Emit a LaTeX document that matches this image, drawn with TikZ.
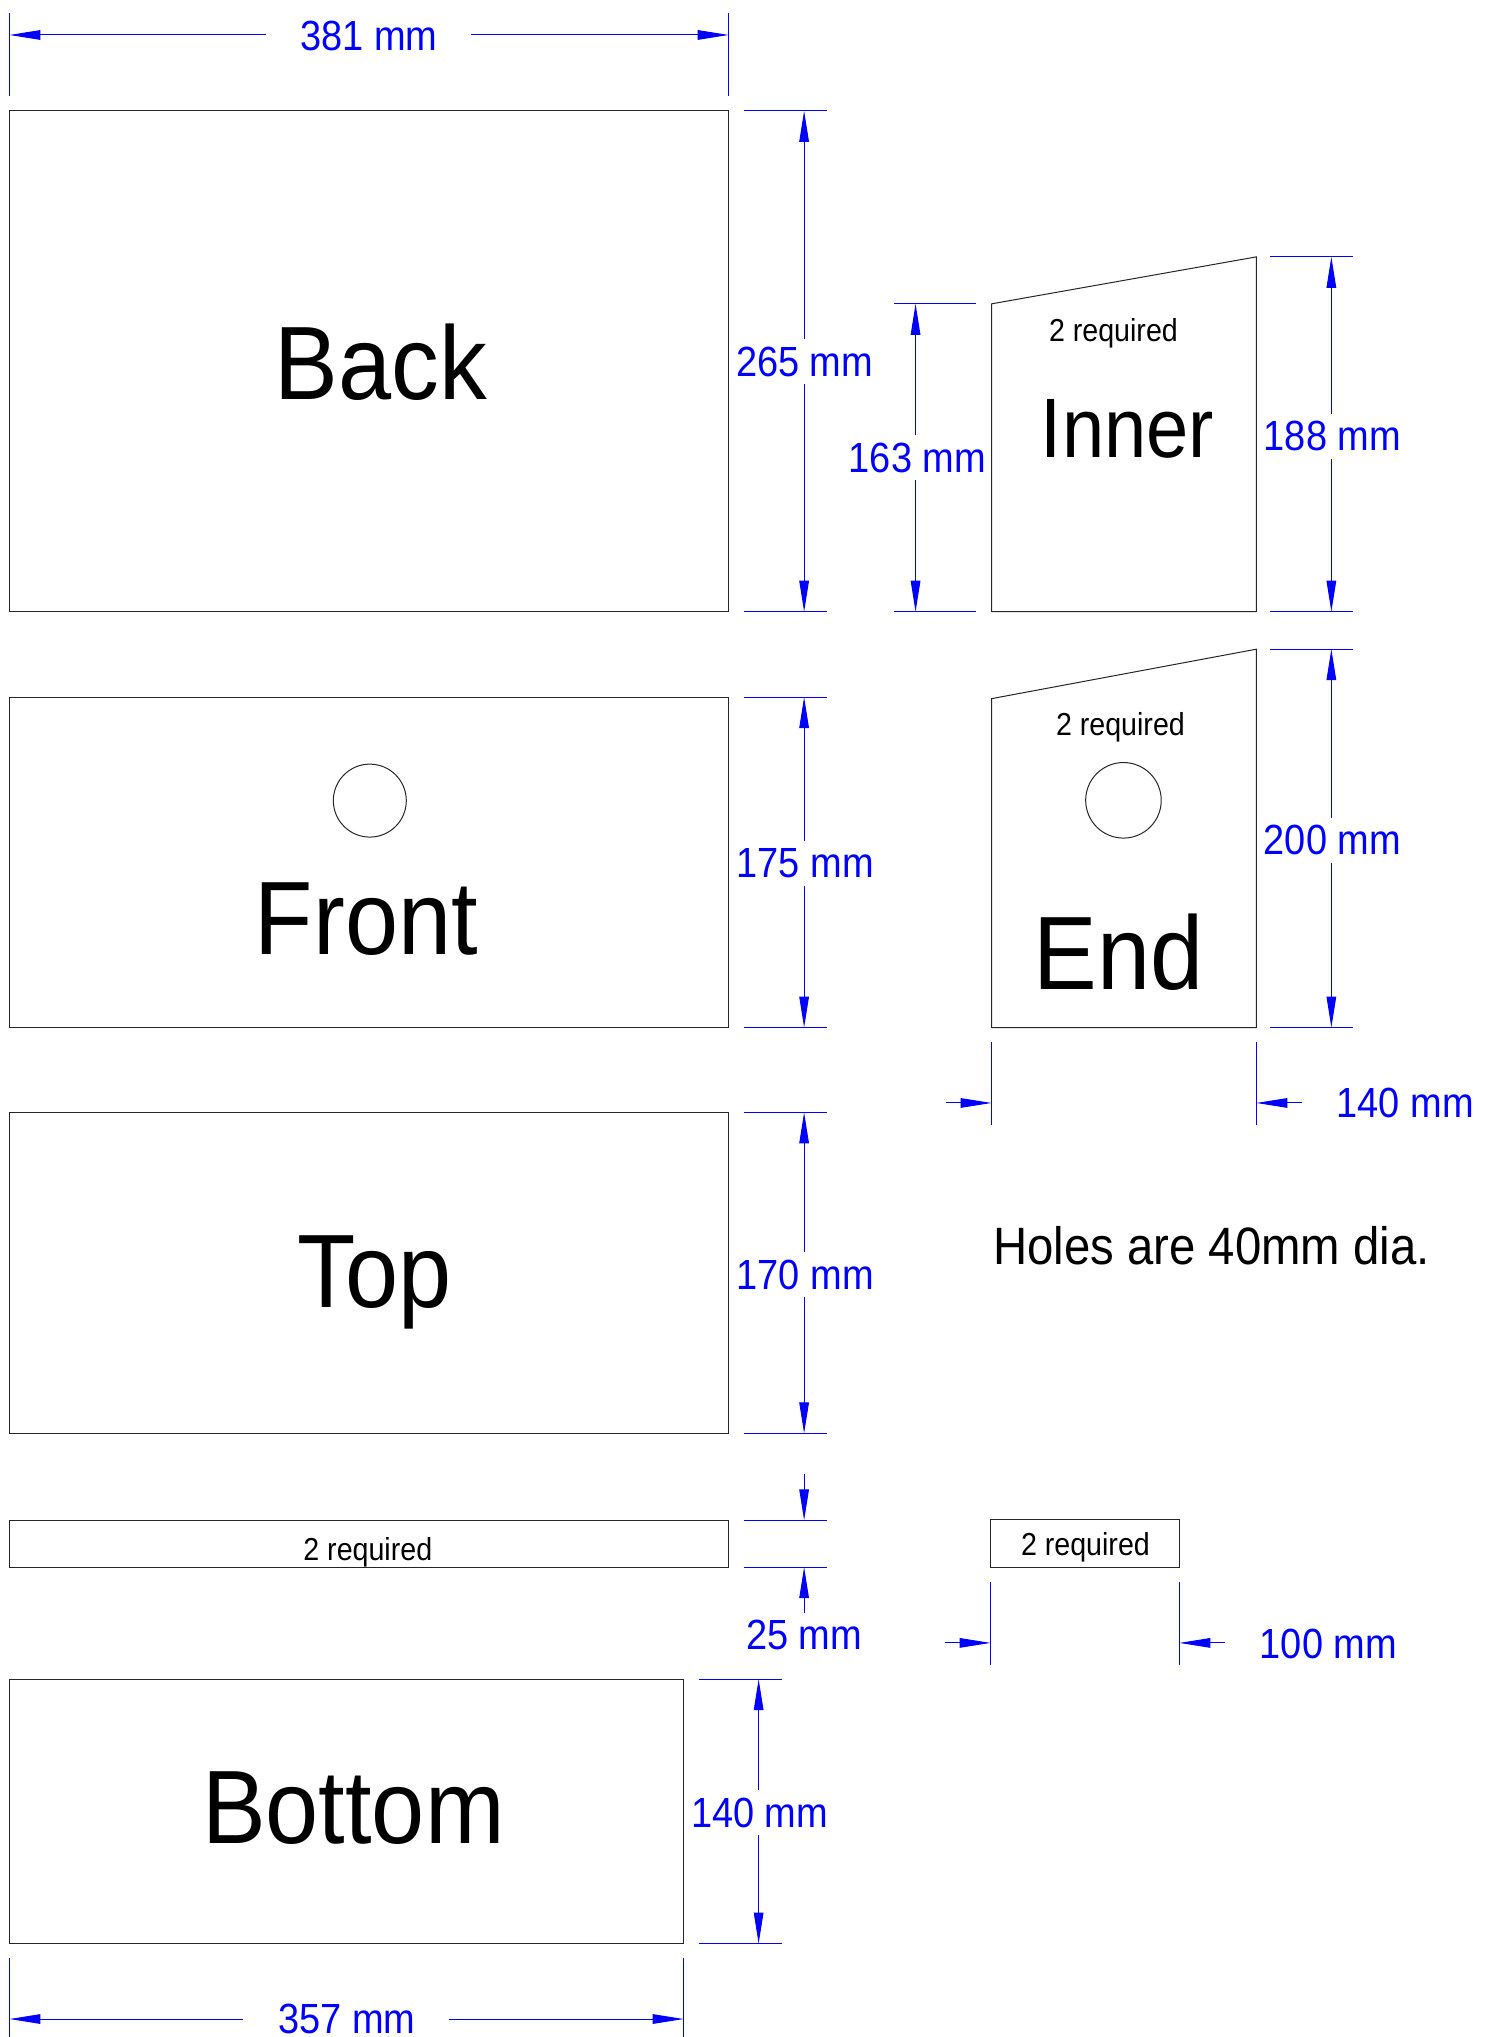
\documentclass[tikz,border=0pt]{standalone}
\usepackage{fontspec}
\setmainfont{Liberation Sans}
\newfontfamily\cadfont[FakeStretch=0.9]{Liberation Sans}
\newfontfamily\cadbigfont[FakeStretch=0.915]{Liberation Sans}
\usetikzlibrary{arrows.meta}
\tikzset{
  part/.style={draw=black!85,line width=0.5bp,line join=miter},
  ext/.style={draw=blue,line width=0.5bp},
  dim/.style={draw=blue,line width=0.5bp,-{Triangle[length=15.5bp,width=4.8bp]}},
  dimtext/.style={text=blue,font=\cadfont\fontsize{21.1bp}{24bp}\selectfont,inner sep=0pt},
  big/.style={text=black,font=\cadbigfont\fontsize{52.2bp}{54bp}\selectfont,inner sep=0pt,anchor=base},
  inner label/.style={text=black,font=\cadfont\fontsize{42.2bp}{44bp}\selectfont,inner sep=0pt,anchor=base},
  req/.style={text=black,font=\cadfont\fontsize{15.9bp}{17bp}\selectfont,inner sep=0pt,anchor=base},
  note/.style={text=black,font=\cadfont\fontsize{26.3bp}{28bp}\selectfont,inner sep=0pt,anchor=base},
}
\begin{document}
\begin{tikzpicture}[x=0.5bp,y=-0.5bp]
\useasboundingbox (0,-1) rectangle (1488,2037);
% parts
\draw[part] (9.5,110) rectangle (729,611);
\draw[part] (9.5,696.5) rectangle (729,1027);
\draw[part] (9.5,1112) rectangle (729,1433);
\draw[part] (9.5,1520) rectangle (729,1567);
\draw[part] (9.5,1679) rectangle (684,1943.5);
\draw[part] (991,1519.5) rectangle (1180,1567);
\draw[part] (992,303) -- (1257,256) -- (1257,611) -- (992,611) -- cycle;
\draw[part] (992,698) -- (1257,648.5) -- (1257,1027) -- (992,1027) -- cycle;
\draw[part] (370,800) circle[radius=36.5];
\draw[part] (1124,799.7) circle[radius=37.8];
% part labels
\node[big] (back) at (381,399) {Back};
\node[big] (front) at (366.5,954) {Front};
\node[big] (top) at (375,1306.7) {Top};
\node[big] (bottom) at (353.5,1843) {Bottom};
\node[inner label] (inner) at (1128,456.7) {Inner};
\node[big] (end) at (1119,989) {End};
\node[req] (reqstrip) at (368,1560) {2 required};
\node[req] (reqbox) at (1086,1555) {2 required};
\node[req] (reqinner) at (1114,340.7) {2 required};
\node[req] (reqend) at (1121,735) {2 required};
\node[note] (holes) at (1212,1264) {Holes are 40mm dia.};
% 381
\draw[ext] (9.5,12) -- (9.5,95) (729,12) -- (729,95);
\draw[dim] (266,34) -- (9.5,34);
\draw[dim] (471,34) -- (729,34);
\node[dimtext] (d381) at (369,35) {381 mm};
% 265
\draw[ext] (744,110) -- (827.5,110) (744,611) -- (827.5,611);
\draw[dim] (804.5,338) -- (804.5,110);
\draw[dim] (804.5,383) -- (804.5,611);
\node[dimtext] (d265) at (805,361) {265 mm};
% 175
\draw[ext] (744,696.5) -- (827.5,696.5) (744,1027) -- (827.5,1027);
\draw[dim] (804.5,840) -- (804.5,696.5);
\draw[dim] (804.5,885) -- (804.5,1027);
\node[dimtext] (d175) at (805.5,863) {175 mm};
% 170
\draw[ext] (744,1112) -- (827.5,1112) (744,1433) -- (827.5,1433);
\draw[dim] (804.5,1252) -- (804.5,1112);
\draw[dim] (804.5,1297) -- (804.5,1433);
\node[dimtext] (d170) at (805.5,1275) {170 mm};
% 25
\draw[ext] (744,1520) -- (827.5,1520) (744,1567) -- (827.5,1567);
\draw[dim] (804.5,1474) -- (804.5,1520);
\draw[dim] (804.5,1613) -- (804.5,1567);
\node[dimtext] (d25) at (804.5,1635) {25 mm};
% 140 bottom
\draw[ext] (699,1679) -- (782,1679) (699,1943.5) -- (782,1943.5);
\draw[dim] (759,1790) -- (759,1679);
\draw[dim] (759,1835) -- (759,1943.5);
\node[dimtext] (d140b) at (760,1813) {140 mm};
% 357
\draw[ext] (9.5,1958) -- (9.5,2037) (684,1958) -- (684,2037);
\draw[dim] (243,2019) -- (9.5,2019);
\draw[dim] (449,2019) -- (684,2019);
\node[dimtext] (d357) at (347,2019) {357 mm};
% 163
\draw[ext] (894,303) -- (976,303) (894,611) -- (976,611);
\draw[dim] (916,434.5) -- (916,303);
\draw[dim] (916,479.5) -- (916,611);
\node[dimtext] (d163) at (917.8,457) {163 mm};
% 188
\draw[ext] (1271,256) -- (1354,256) (1271,611) -- (1354,611);
\draw[dim] (1332,413) -- (1332,256);
\draw[dim] (1332,458) -- (1332,611);
\node[dimtext] (d188) at (1333,435) {188 mm};
% 200
\draw[ext] (1271,648.5) -- (1354,648.5) (1271,1027) -- (1354,1027);
\draw[dim] (1332,817) -- (1332,648.5);
\draw[dim] (1332,862) -- (1332,1027);
\node[dimtext] (d200) at (1333,839.5) {200 mm};
% 140 top
\draw[ext] (992,1042) -- (992,1125) (1257,1042) -- (1257,1125);
\draw[dim] (946,1102.5) -- (992,1102.5);
\draw[dim] (1303,1102.5) -- (1257,1102.5);
\node[dimtext] (d140t) at (1406,1103) {140 mm};
% 100
\draw[ext] (991,1582) -- (991,1665) (1180,1582) -- (1180,1665);
\draw[dim] (945,1642.7) -- (991,1642.7);
\draw[dim] (1226,1642.7) -- (1180,1642.7);
\node[dimtext] (d100) at (1329,1644) {100 mm};
\end{tikzpicture}
\end{document}
